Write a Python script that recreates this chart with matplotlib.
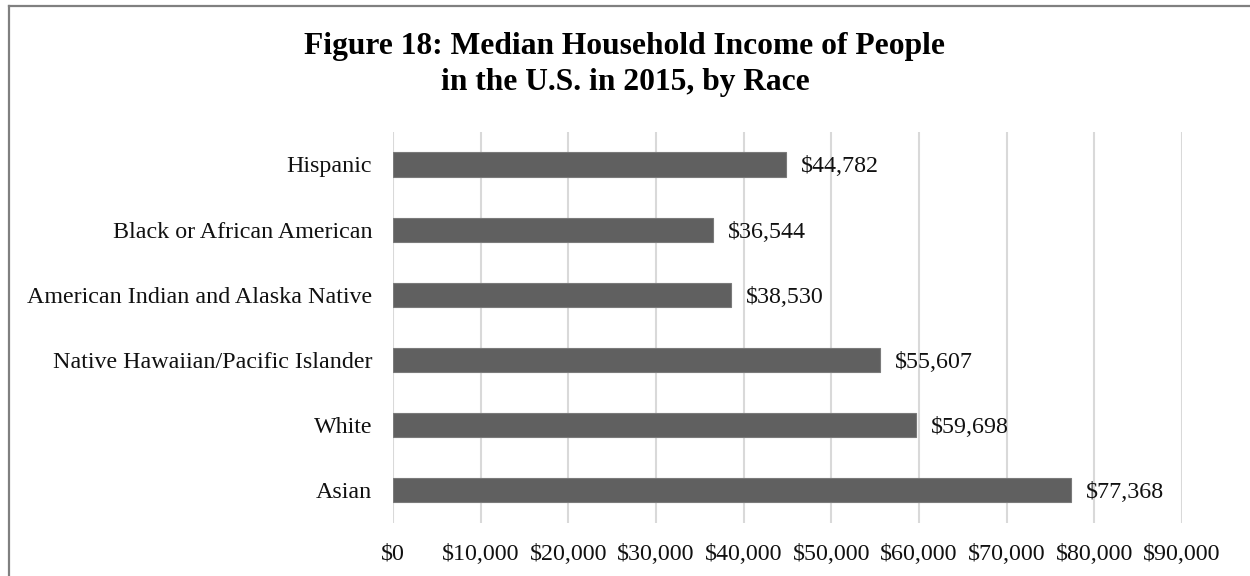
import matplotlib.pyplot as plt
from matplotlib.lines import Line2D
from matplotlib.ticker import FuncFormatter

races = ['Asian', 'White', 'Native Hawaiian/Pacific Islander',
         'American Indian and Alaska Native', 'Black or African American', 'Hispanic']
income = [77368, 59698, 55607, 38530, 36544, 44782]
xticks = [0, 10000, 20000, 30000, 40000, 50000, 60000, 70000, 80000, 90000]

plt.rcParams['font.family'] = ['Liberation Serif', 'DejaVu Serif']

fig = plt.figure(figsize=(12.5, 5.76), dpi=100)
ax = fig.add_axes([0.3144, 0.092, 0.6312, 0.679])

y = list(range(len(races)))
ax.barh(y, income, height=0.37, color='#606060', edgecolor='#7a7a7a', linewidth=0.8, zorder=3)
for yi, v in zip(y, income):
    ax.text(v + 1700, yi, '${:,}'.format(v), va='center_baseline', ha='left', fontsize=17.3, color='#111111')

ax.set_xlim(0, 90000)
ax.set_ylim(-0.5, 5.5)
ax.set_xticks(xticks)
ax.xaxis.set_major_formatter(FuncFormatter(lambda v, p: '${:,.0f}'.format(v)))
ax.set_yticks(y)
ax.set_yticklabels(races)
ax.tick_params(axis='both', length=0, labelsize=17.3, colors='#111111')
ax.tick_params(axis='y', pad=15)
ax.tick_params(axis='x', pad=15)
ax.grid(axis='x', color='#d9d9d9', linewidth=1.5, zorder=0)
for s in ax.spines.values():
    s.set_visible(False)

fig.text(0.5, 0.888, 'Figure 18: Median Household Income of People\nin the U.S. in 2015, by Race',
         ha='center', va='center', fontsize=22.7, fontweight='bold', linespacing=1.3)

# outer frame (left and top edges visible)
fig.add_artist(Line2D([8.5 / 1250, 8.5 / 1250], [0, 1 - 5.5 / 576], transform=fig.transFigure, color='#808080', lw=1.6))
fig.add_artist(Line2D([8.5 / 1250, 1], [1 - 5.5 / 576, 1 - 5.5 / 576], transform=fig.transFigure, color='#808080', lw=1.6))

fig.savefig('out.png', dpi=100)
